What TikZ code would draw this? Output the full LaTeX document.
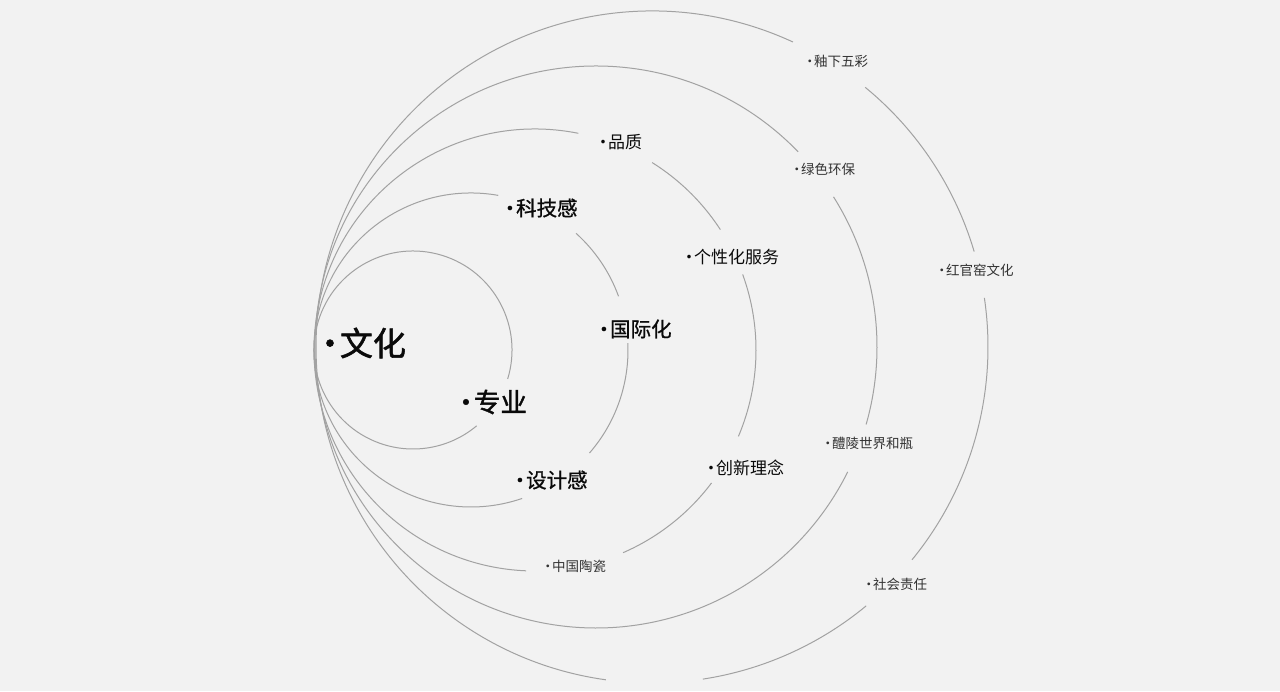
\documentclass[tikz,border=0pt]{standalone}
\usepackage{fontspec}
\newfontfamily\cjk{Noto Sans CJK SC}
\newfontfamily\cjkbig[FakeBold=1.6]{Noto Sans CJK SC}
\newfontfamily\cjkmid[FakeBold=0.9]{Noto Sans CJK SC}
\definecolor{bg}{HTML}{F2F2F2}
\definecolor{ringc}{HTML}{A2A2A2}
\definecolor{txtdark}{HTML}{0A0A0A}
\definecolor{txtgray}{HTML}{333333}
\newcommand{\lead}{·\hspace{-0.2em}}
\begin{document}
\begin{tikzpicture}[x=1pt,y=1pt,
  ring/.style={draw=ringc, line width=1pt},
  lbl/.style={anchor=west, inner sep=0pt, outer sep=0pt},
  lblA/.style={lbl, text=txtdark, font=\cjkbig\fontsize{33}{40}\selectfont},
  lblB/.style={lbl, text=txtdark, font=\cjkbig\fontsize{26.5}{32}\selectfont},
  lblC/.style={lbl, text=txtdark, font=\cjkmid\fontsize{20.5}{25}\selectfont},
  lblD/.style={lbl, text=txtdark, font=\cjk\fontsize{17}{21}\selectfont},
  lblE/.style={lbl, text=txtgray, font=\cjk\fontsize{13.5}{16}\selectfont}]
\useasboundingbox[fill=bg] (0,0) rectangle (1280,691);
% circle centres
\coordinate (c1) at (413,341);
\coordinate (c2) at (471,341);
\coordinate (c3) at (535,341);
\coordinate (c4) at (596,344);
\coordinate (c5) at (652,344);
% ring 1
\draw[ring] (c1) ++(-17:99) arc[start angle=-17, end angle=310, radius=99];
% ring 2
\draw[ring] (c2) ++(80:157) arc[start angle=80, end angle=289, radius=157];
\draw[ring] (c2) ++(20:157) arc[start angle=20, end angle=48, radius=157];
\draw[ring] (c2) ++(-41:157) arc[start angle=-41, end angle=2.5, radius=157];
% ring 3
\draw[ring] (c3) ++(78.7:221) arc[start angle=78.7, end angle=267.7, radius=221];
\draw[ring] (c3) ++(33:221) arc[start angle=33, end angle=58, radius=221];
\draw[ring] (c3) ++(-23:221) arc[start angle=-23, end angle=20, radius=221];
\draw[ring] (c3) ++(-66.5:221) arc[start angle=-66.5, end angle=-37, radius=221];
% ring 4
\draw[ring] (c4) ++(44:281) arc[start angle=44, end angle=333.6, radius=281];
\draw[ring] (c4) ++(-16:281) arc[start angle=-16, end angle=32.3, radius=281];
% ring 5
\draw[ring] (c5) ++(65.2:336) arc[start angle=65.2, end angle=262.1, radius=336];
\draw[ring] (c5) ++(16.5:336) arc[start angle=16.5, end angle=50.6, radius=336];
\draw[ring] (c5) ++(-39.3:336) arc[start angle=-39.3, end angle=8.4, radius=336];
\draw[ring] (c5) ++(-81.3:336) arc[start angle=-81.3, end angle=-50.4, radius=336];
% labels
\node[lblA] (wenhua) at (313.5,348) {\lead 文化};
\node[lblB] (zhuanye) at (452.7,289) {\lead 专业};
\node[lblC] (kejigan) at (499.7,483) {\lead 科技感};
\node[lblC] (guojihua) at (593.7,362) {\lead 国际化};
\node[lblC] (shejigan) at (509.7,211) {\lead 设计感};
\node[lblD] (pinzhi) at (594.5,549) {\lead 品质};
\node[lblD] (gexinghua) at (680.5,434) {\lead 个性化服务};
\node[lblD] (chuangxin) at (702.5,223) {\lead 创新理念};
\node[lblE] (lvse) at (790.2,522) {\lead 绿色环保};
\node[lblE] (youxia) at (803.2,630) {\lead 釉下五彩};
\node[lblE] (hongguan) at (935.2,421) {\lead 红官窑文化};
\node[lblE] (liling) at (821.2,248) {\lead 醴陵世界和瓶};
\node[lblE] (zhongguo) at (541.2,125) {\lead 中国陶瓷};
\node[lblE] (shehui) at (862.2,107) {\lead 社会责任};
\end{tikzpicture}
\end{document}
